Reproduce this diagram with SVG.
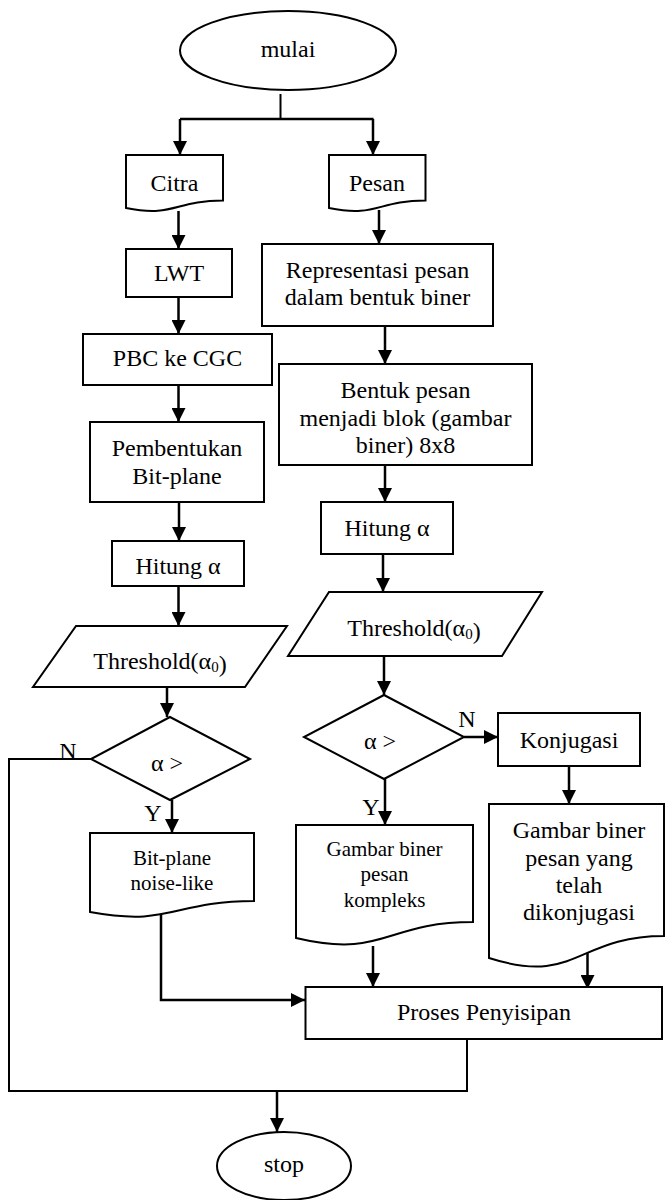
<svg xmlns="http://www.w3.org/2000/svg" width="665" height="1200" viewBox="0 0 665 1200">
<style>
.s{fill:#fff;stroke:#000;stroke-width:2}
.t{font-family:"Liberation Serif","Times New Roman",serif;font-size:24px;fill:#000;text-anchor:middle}
.m{font-size:21px}
.c{fill:none;stroke:#000;stroke-width:2.5}
.c2{fill:none;stroke:#000;stroke-width:2}
</style>
<defs>
<marker id="ah" markerUnits="userSpaceOnUse" markerWidth="14" markerHeight="14" refX="14" refY="7" orient="auto">
<path d="M0,0 L14,7 L0,14 Z" fill="#000"/>
</marker>
</defs>
<rect width="665" height="1200" fill="#fff"/>
<g id="connectors">
<path class="c2" d="M280.5,94 V119"/>
<path class="c" d="M180,119 H373.5"/>
<path class="c" d="M180,119 V155" marker-end="url(#ah)"/>
<path class="c" d="M373,119 V155" marker-end="url(#ah)"/>
<path class="c" d="M178.5,211 V249" marker-end="url(#ah)"/>
<path class="c" d="M379,210 V244" marker-end="url(#ah)"/>
<path class="c" d="M178.5,297 V334" marker-end="url(#ah)"/>
<path class="c" d="M385,326 V364" marker-end="url(#ah)"/>
<path class="c" d="M178.5,385 V422" marker-end="url(#ah)"/>
<path class="c" d="M385,465 V502" marker-end="url(#ah)"/>
<path class="c" d="M179,502 V541" marker-end="url(#ah)"/>
<path class="c" d="M383,554 V592" marker-end="url(#ah)"/>
<path class="c" d="M178.5,586 V626" marker-end="url(#ah)"/>
<path class="c" d="M384,656 V695" marker-end="url(#ah)"/>
<path class="c" d="M167,687 V717" marker-end="url(#ah)"/>
<path class="c" d="M464,737 H498" marker-end="url(#ah)"/>
<path class="c" d="M569,766 V804" marker-end="url(#ah)"/>
<path class="c" d="M172,800 V833" marker-end="url(#ah)"/>
<path class="c" d="M385,779 V825" marker-end="url(#ah)"/>
<path class="c" d="M161,912 V1000 H305" marker-end="url(#ah)"/>
<path class="c" d="M373,946 V987" marker-end="url(#ah)"/>
<path class="c" d="M587.5,953 V989" marker-end="url(#ah)"/>
<path class="c2" d="M91,759 H9 V1091 H467 V1039"/>
<path class="c" d="M277,1091 V1132" marker-end="url(#ah)"/>
</g>
<g id="mulai"><ellipse class="s" cx="288" cy="50.5" rx="108" ry="39.5"/><text class="t" x="288" y="57">mulai</text></g>
<g id="citra"><path class="s" d="M126,155 H223 V200.5 C174.5,200.5 174.5,217.8 126,208 Z"/><text class="t" x="174.5" y="191">Citra</text></g>
<g id="pesan"><path class="s" d="M329,155 H425.5 V200.5 C377,200.5 377,217.8 329,208 Z"/><text class="t" x="377" y="191">Pesan</text></g>
<g id="lwt"><rect class="s" x="126" y="249" width="106" height="48"/><text class="t" x="179" y="281">LWT</text></g>
<g id="representasi"><rect class="s" x="262" y="244" width="231" height="82"/><text class="t" x="377.5" y="278">Representasi pesan</text><text class="t" x="377.5" y="305">dalam bentuk biner</text></g>
<g id="pbc"><rect class="s" x="83" y="334" width="189" height="51"/><text class="t" x="177.5" y="366">PBC ke CGC</text></g>
<g id="bentuk"><rect class="s" x="279" y="364" width="253" height="101"/><text class="t" x="405.5" y="398">Bentuk pesan</text><text class="t" x="405.5" y="426">menjadi blok (gambar</text><text class="t" x="405.5" y="453">biner) 8x8</text></g>
<g id="pembentukan"><rect class="s" x="90" y="422" width="174" height="80"/><text class="t" x="177" y="456">Pembentukan</text><text class="t" x="177" y="484">Bit-plane</text></g>
<g id="hitung2"><rect class="s" x="321" y="502" width="132" height="52"/><text class="t" x="387" y="536">Hitung α</text></g>
<g id="hitung1"><rect class="s" x="112" y="541" width="132" height="45"/><text class="t" x="178" y="574">Hitung α</text></g>
<g id="threshold2"><path class="s" d="M329,592 H542 L502,656 H288 Z"/><text class="t" x="414" y="636">Threshold(α<tspan font-size="15" dy="3">0</tspan>)</text></g>
<g id="threshold1"><path class="s" d="M76,626 H287 L245,687 H33 Z"/><text class="t" x="160" y="669">Threshold(α<tspan font-size="15" dy="3">0</tspan>)</text></g>
<g id="decision2"><path class="s" d="M384,695 L464,737 L384,779 L304,737 Z"/><text class="t" x="380" y="749">α &gt;</text></g>
<g id="decision1"><path class="s" d="M170,717 L250,759 L170,800 L91,759 Z"/><text class="t" x="167" y="771">α &gt;</text></g>
<g id="labels"><text class="t" x="467" y="727">N</text><text class="t" x="68" y="759">N</text><text class="t" x="153" y="821">Y</text><text class="t" x="371" y="815">Y</text></g>
<g id="konjugasi"><rect class="s" x="498" y="713" width="142" height="53"/><text class="t" x="569" y="748">Konjugasi</text></g>
<g id="noiselike"><path class="s" d="M90,833 H254 V901 C172,901 172,927 90,912 Z"/><text class="t m" x="172" y="865">Bit-plane</text><text class="t m" x="172" y="890">noise-like</text></g>
<g id="kompleks"><path class="s" d="M296,825 H473 V922 C384.5,922 384.5,959 296,938 Z"/><text class="t m" x="384.5" y="856">Gambar biner</text><text class="t m" x="384.5" y="881">pesan</text><text class="t m" x="384.5" y="907">kompleks</text></g>
<g id="dikonjugasi"><path class="s" d="M489,804 H664 V936 C576.5,936 576.5,986 489,958 Z"/><text class="t" x="579" y="838">Gambar biner</text><text class="t" x="579" y="866">pesan yang</text><text class="t" x="579" y="893">telah</text><text class="t" x="579" y="920">dikonjugasi</text></g>
<g id="proses"><rect class="s" x="305.5" y="987" width="356.5" height="52"/><text class="t" x="484" y="1020">Proses Penyisipan</text></g>
<g id="stop"><ellipse class="s" cx="284" cy="1166" rx="67" ry="34"/><text class="t" x="284" y="1172" font-size="20">stop</text></g>
</svg>
